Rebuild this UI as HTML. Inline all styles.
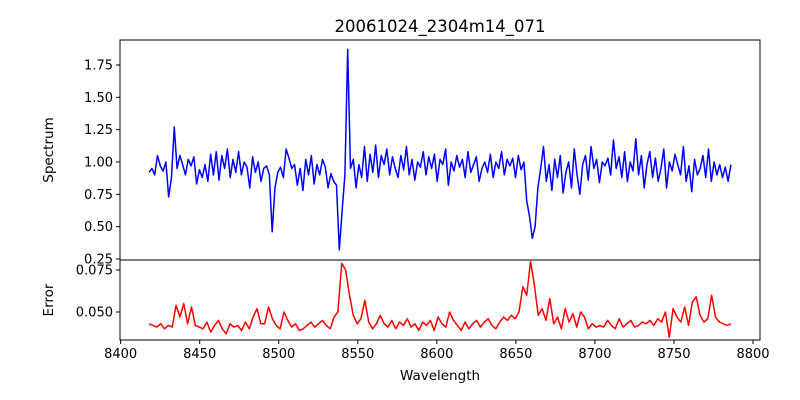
<!DOCTYPE html>
<html><head><meta charset="utf-8"><style>
body{margin:0;background:#fff;}
svg{display:block;font-family:"DejaVu Sans","Liberation Sans",sans-serif;}
</style></head><body>
<svg id="chart" width="800" height="400">
<rect x="0" y="0" width="800" height="400" fill="#fff"/>
<text x="440" y="32" font-size="16.5" text-anchor="middle">20061024_2304m14_071</text>
<text x="0" y="0" font-size="13.5" text-anchor="middle" transform="translate(53,150) rotate(-90)">Spectrum</text>
<text x="0" y="0" font-size="13.5" text-anchor="middle" transform="translate(53,300) rotate(-90)">Error</text>
<text x="440" y="380" font-size="13.5" text-anchor="middle">Wavelength</text>
<g id="g"></g>
</svg>
<script>
const waveStart = 8418, waveEnd = 8786;
const flux = [0.92,0.95,0.90,1.05,0.97,0.93,1.00,0.73,0.88,1.27,0.95,1.05,0.98,0.90,
1.02,0.97,1.04,0.83,0.94,0.88,0.98,0.85,1.06,0.90,1.08,0.86,1.05,0.95,1.10,0.88,1.02,0.92,1.08,0.90,1.00,0.96,0.80,1.04,0.92,1.00,0.85,0.95,0.97,0.90,
0.46,0.80,0.92,0.96,0.88,1.10,1.03,0.95,0.98,0.82,0.95,0.78,1.02,0.90,1.05,0.83,0.98,0.90,1.02,0.96,0.80,0.91,0.85,0.82,
0.32,0.62,0.90,1.87,
0.95,1.02,0.80,0.98,0.88,1.12,0.85,1.06,0.92,1.13,0.88,1.05,0.98,1.10,0.90,1.04,0.95,0.88,1.05,0.94,1.12,0.90,1.02,0.86,1.00,0.96,1.08,
0.90,1.04,0.95,1.06,0.85,1.02,0.98,1.10,0.82,1.00,0.93,1.05,0.96,1.02,0.88,1.08,0.92,0.98,1.04,0.85,0.95,1.00,
0.92,1.06,0.88,1.00,0.95,1.08,0.90,1.02,0.97,1.03,0.88,1.05,0.94,1.00,
0.70,0.58,0.41,0.50,0.80,0.95,1.12,0.85,0.98,0.78,1.02,0.88,1.05,0.76,0.92,1.00,0.80,1.10,0.90,0.75,0.98,1.05,0.86,1.12,0.95,1.02,0.84,1.00,0.97,1.03,0.90,1.17,0.95,1.04,0.88,1.08,0.85,1.00,0.93,1.18,0.90,1.05,0.80,0.98,1.08,0.88,1.03,0.85,0.95,1.10,0.80,1.00,0.93,1.06,0.98,0.90,1.12,0.85,0.97,0.77,1.02,0.90,0.95,1.05,0.88,1.10,0.85,1.00,0.90,0.98,0.88,0.96,0.85,0.98];
const err = [0.043,0.042,0.041,0.043,0.040,0.042,0.041,0.054,0.047,0.055,0.043,0.053,0.042,0.041,0.040,0.044,0.038,0.042,0.045,0.040,0.037,0.043,0.041,0.042,0.039,0.044,0.040,0.047,0.052,0.043,
0.043,0.053,0.046,0.042,0.040,0.050,0.045,0.041,0.043,0.039,0.040,0.042,0.044,0.041,0.043,0.045,0.042,0.040,0.047,0.050,0.079,0.075,0.060,0.048,0.043,0.046,0.057,0.044,0.040,0.043,0.048,
0.043,0.041,0.045,0.040,0.044,0.042,0.046,0.041,0.043,0.039,0.044,
0.042,0.045,0.039,0.047,0.043,0.041,0.050,0.045,0.042,0.039,0.044,0.040,0.043,0.045,0.041,0.044,0.046,0.042,0.040,0.044,0.047,0.045,0.048,0.046,0.050,0.065,0.060,0.080,0.066,0.048,0.052,0.045,0.058,0.043,0.047,0.040,0.052,0.044,0.049,0.041,0.050,0.047,0.040,0.043,0.041,0.042,0.041,0.045,0.042,0.040,0.046,0.041,0.043,0.045,0.041,0.042,0.044,0.043,0.045,0.042,0.046,0.044,0.050,0.035,0.052,0.047,0.044,0.053,0.042,0.056,0.059,0.048,0.044,0.046,0.060,0.047,0.044,0.043,0.042,0.043];
const xTicks = [8400,8450,8500,8550,8600,8650,8700,8750,8800];
const fluxTicks = [0.25,0.50,0.75,1.00,1.25,1.50,1.75];
const fluxTickLabels = ["0.25","0.50","0.75","1.00","1.25","1.50","1.75"];
const errTicks = [0.050,0.075];
const errTickLabels = ["0.050","0.075"];

const L=120,R=760,T1=40,B1=260,T2=260,B2=340;
const xMin=8399.6,xMax=8804.4;
const sx=v=>L+(v-xMin)/(xMax-xMin)*(R-L);
const sy1=v=>B1-(v-0.2423)/(1.943-0.2423)*(B1-T1);
const eTop=0.08095,eBot=0.03333;
const sy2=v=>B2-(v-eBot)/(eTop-eBot)*(B2-T2);
const NS="http://www.w3.org/2000/svg";
const g=document.getElementById('g');
function mk(t,a){const e=document.createElementNS(NS,t);for(const k in a)e.setAttribute(k,a[k]);g.appendChild(e);return e;}
function wl(arr,i){return waveStart+i*(waveEnd-waveStart)/(arr.length-1);}
let p1=flux.map((v,i)=>(i?'L':'M')+sx(wl(flux,i)).toFixed(2)+','+sy1(v).toFixed(2)).join('');
const l1=mk('path',{d:p1,fill:'none',stroke:'#0000ff','stroke-width':1.5,'stroke-linejoin':'round'});


let p2=err.map((v,i)=>(i?'L':'M')+sx(wl(err,i)).toFixed(2)+','+sy2(v).toFixed(2)).join('');
const l2=mk('path',{d:p2,fill:'none',stroke:'#ff0000','stroke-width':1.5,'stroke-linejoin':'round'});


const f1=mk('rect',{x:L,y:T1,width:R-L,height:B1-T1,fill:'none',stroke:'#000','stroke-width':1});


const f2=mk('rect',{x:L,y:T2,width:R-L,height:B2-T2,fill:'none',stroke:'#000','stroke-width':1});


xTicks.forEach(v=>{const x=sx(v);
 const t=mk('line',{x1:x,x2:x,y1:B2,y2:B2+4,stroke:'#000'});
 
 
 const tx=mk('text',{x:x,y:B2+18,'font-size':13,'text-anchor':'middle'});tx.textContent=v;
 
 });
fluxTicks.forEach((v,i)=>{const y=sy1(v);
 const t=mk('line',{x1:L-4,x2:L,y1:y,y2:y,stroke:'#000'});
 
 
 const tx=mk('text',{x:L-7,y:y+4.5,'font-size':13,'text-anchor':'end'});tx.textContent=fluxTickLabels[i];
 
 });
errTicks.forEach((v,i)=>{const y=sy2(v);
 const t=mk('line',{x1:L-4,x2:L,y1:y,y2:y,stroke:'#000'});
 
 
 const tx=mk('text',{x:L-7,y:y+4.5,'font-size':13,'text-anchor':'end'});tx.textContent=errTickLabels[i];
 
 });
</script>
</body></html>
